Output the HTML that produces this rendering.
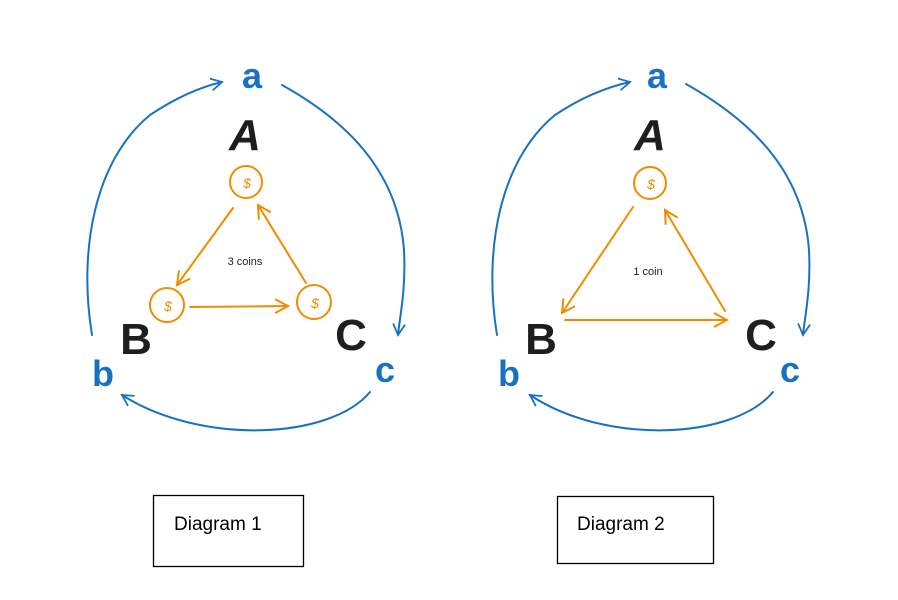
<!DOCTYPE html>
<html><head><style>
body{margin:0;background:#fff;width:898px;height:595px;overflow:hidden}
</style></head><body>
<svg width="898" height="595" viewBox="0 0 898 595" xmlns="http://www.w3.org/2000/svg" font-family="Liberation Sans, sans-serif">
<defs>
<marker id="ab" markerWidth="14" markerHeight="14" refX="12" refY="7" orient="auto" markerUnits="userSpaceOnUse"><path d="M1,1 L12,7 L1,13" fill="none" stroke="#1971c2" stroke-width="1.8"/></marker>
<marker id="ao" markerWidth="16" markerHeight="16" refX="14" refY="8" orient="auto" markerUnits="userSpaceOnUse"><path d="M1,1 L14,8 L1,15" fill="none" stroke="#f08c00" stroke-width="2"/></marker>
</defs>
<g fill="none" stroke="#1971c2" stroke-width="2" stroke-linecap="round">
<path d="M92,335 C78,250 95,160 150,115 C180,95 205,86 222,82" marker-end="url(#ab)"/>
<path d="M282,85 C345,120 398,170 404,250 C406,290 400,315 398,335" marker-end="url(#ab)"/>
<path d="M370,392 C330,440 200,445 122,395" marker-end="url(#ab)"/>
<path d="M497,335 C483,250 500,160 555,115 C585,95 612,86 630,82" marker-end="url(#ab)"/>
<path d="M686,84 C750,120 803,170 809,250 C811,290 805,315 803,335" marker-end="url(#ab)"/>
<path d="M773,392 C733,440 605,445 530,395" marker-end="url(#ab)"/>
</g>
<g fill="none" stroke="#f08c00" stroke-width="2" stroke-linecap="round">
<circle cx="246" cy="182" r="16"/>
<circle cx="167" cy="305" r="17"/>
<circle cx="314" cy="302" r="17"/>
<path d="M233,208 L177,285" marker-end="url(#ao)"/>
<path d="M190,307 L288,306" marker-end="url(#ao)"/>
<path d="M306,283 L258,205" marker-end="url(#ao)"/>
<circle cx="650" cy="183" r="16"/>
<path d="M633,207 L562,313" marker-end="url(#ao)"/>
<path d="M565,320 L727,320" marker-end="url(#ao)"/>
<path d="M725,311 L665,210" marker-end="url(#ao)"/>
</g>
<g fill="#f08c00" font-size="14" text-anchor="middle" font-style="italic">
<text x="247" y="188">$</text><text x="168" y="311">$</text><text x="315" y="308">$</text><text x="651" y="189">$</text>
</g>
<g fill="#1e1e1e" font-weight="bold" text-anchor="middle" font-size="44">
<text x="245" y="150" font-style="italic">A</text>
<text x="136" y="354">B</text>
<text x="351" y="350">C</text>
<text x="650" y="150" font-style="italic">A</text>
<text x="541" y="354">B</text>
<text x="761" y="350">C</text>
</g>
<g fill="#1971c2" font-weight="bold" text-anchor="middle" font-size="36">
<text x="252" y="88">a</text>
<text x="103" y="386">b</text>
<text x="385" y="382">c</text>
<text x="657" y="88">a</text>
<text x="509" y="386">b</text>
<text x="790" y="382">c</text>
</g>
<g fill="#1e1e1e" font-size="11" text-anchor="middle">
<text x="245" y="265">3 coins</text>
<text x="648" y="275">1 coin</text>
</g>
<rect x="153.5" y="495.5" width="150" height="71" fill="none" stroke="#000" stroke-width="1.3"/>
<rect x="557.5" y="496.5" width="156" height="67" fill="none" stroke="#000" stroke-width="1.3"/>
<g font-size="19" fill="#000">
<text x="174" y="530">Diagram 1</text>
<text x="577" y="530">Diagram 2</text>
</g>
</svg>
</body></html>
